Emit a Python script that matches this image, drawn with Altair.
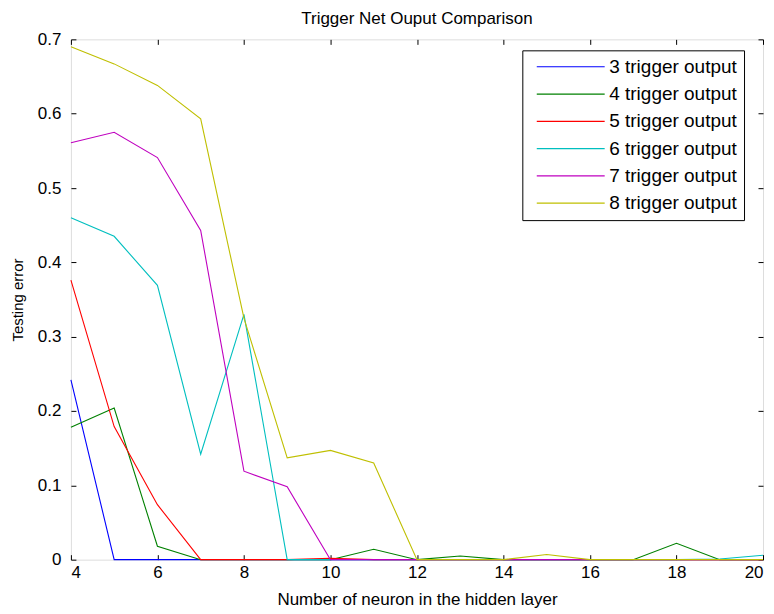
import altair as alt
import pandas as pd

neurons = list(range(4, 21))
series_names = [
    "3 trigger output",
    "4 trigger output",
    "5 trigger output",
    "6 trigger output",
    "7 trigger output",
    "8 trigger output",
]
s3 = [0.242, 0, 0, 0, 0, 0, 0, 0, 0, 0, 0, 0, 0, 0, 0, 0, 0]
s4 = [0.178, 0.204, 0.018, 0, 0, 0, 0, 0.014, 0, 0.005, 0, 0, 0, 0, 0.022, 0, 0]
s5 = [0.376, 0.179, 0.074, 0, 0, 0, 0.002, 0, 0, 0, 0, 0, 0, 0, 0, 0, 0]
s6 = [0.460, 0.435, 0.369, 0.142, 0.330, 0, 0, 0, 0, 0, 0, 0, 0, 0, 0, 0.001, 0.006]
s7 = [0.561, 0.575, 0.541, 0.443, 0.119, 0.098, 0, 0, 0, 0, 0, 0, 0, 0, 0, 0, 0]
s8 = [0.690, 0.667, 0.638, 0.593, 0.325, 0.137, 0.147, 0.130, 0, 0, 0, 0.007, 0, 0, 0, 0, 0]
colors = ["#0000ff", "#008000", "#ff0000", "#00bfbf", "#bf00bf", "#bfbf00"]
x_ticks = [4, 6, 8, 10, 12, 14, 16, 18, 20]
y_ticks = [0, 0.1, 0.2, 0.3, 0.4, 0.5, 0.6, 0.7]

rows = []
for name, vals in zip(series_names, [s3, s4, s5, s6, s7, s8]):
    for n, v in zip(neurons, vals):
        rows.append({"neurons": n, "error": v, "series": name})
df = pd.DataFrame(rows)

FONT = "Liberation Sans"
xs = alt.Scale(domain=[4, 20], nice=False, zero=False)
ys = alt.Scale(domain=[0, 0.7], nice=False)

common_axis = dict(offset=-5, tickSize=5, domain=False, grid=False,
                   tickColor="black", tickWidth=1)

lines = alt.Chart(df).mark_line(strokeWidth=1.1).encode(
    x=alt.X("neurons:Q", scale=xs,
            axis=alt.Axis(title="Number of neuron in the hidden layer",
                          values=x_ticks, orient="bottom", labelPadding=5,
                          titlePadding=11, labelFontSize=17, titleFontSize=17,
                          labelFont=FONT, titleFont=FONT, labelColor="black",
                          titleColor="black", titleFontWeight="normal",
                          **common_axis)),
    y=alt.Y("error:Q", scale=ys,
            axis=alt.Axis(title="Testing error", values=y_ticks, format=".1~f",
                          orient="left", labelPadding=10, titlePadding=12,
                          labelFontSize=17, titleFontSize=15, labelFont=FONT,
                          titleFont=FONT, labelColor="black", titleColor="black",
                          titleFontWeight="normal", **common_axis)),
    color=alt.Color("series:N",
                    scale=alt.Scale(domain=series_names, range=colors),
                    legend=alt.Legend(title=None, orient="none", legendX=452,
                                      legendY=11, strokeColor="black",
                                      fillColor="white", padding=7,
                                      symbolType="M-0.3,0H9.7", symbolSize=185,
                                      symbolStrokeWidth=1.1, labelFontSize=19,
                                      labelFont=FONT, labelColor="black",
                                      labelOffset=61, rowPadding=7.3)),
)

mirror = alt.Chart(df).mark_line(opacity=0).encode(
    x=alt.X("neurons:Q", scale=xs,
            axis=alt.Axis(title=None, labels=False, values=x_ticks, orient="top",
                          **common_axis)),
    y=alt.Y("error:Q", scale=ys,
            axis=alt.Axis(title=None, labels=False, values=y_ticks, orient="right",
                          **common_axis)),
    detail="series:N",
)

chart = (
    alt.layer(lines, mirror)
    .resolve_axis(x="independent", y="independent")
    .properties(
        width=693,
        height=521,
        padding={"left": 2, "top": 2, "right": 0, "bottom": 0},
        title=alt.TitleParams("Trigger Net Ouput Comparison", fontSize=17,
                              fontWeight="normal", font=FONT, color="black",
                              offset=2),
    )
    .configure_view(stroke="black", strokeWidth=1)
    .configure(background="white")
)

chart.save("out.html", embed_options={"renderer": "svg", "actions": False})
